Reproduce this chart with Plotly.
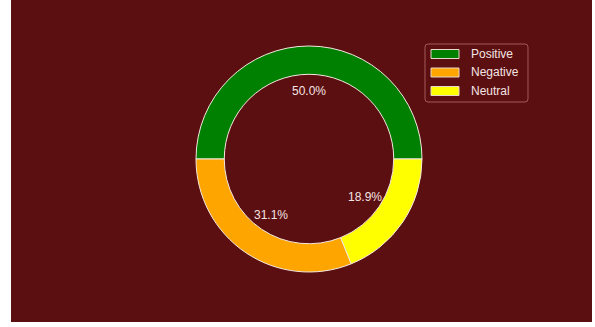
import plotly.graph_objects as go
import math
import re

categories = ["Positive", "Negative", "Neutral"]
values = [50.0, 31.1, 18.9]
colors = ["#008000", "#FFA500", "#FFFF00"]

W, H = 595, 327
BG = "#5c0f10"
TXT = "#f3e4e4"

# pie placement in pixels -> paper
cx_px, cy_px, R_px = 309, 159, 113
dom_x = [(cx_px - R_px) / W, (cx_px + R_px) / W]
dom_y = [1 - (cy_px + R_px) / H, 1 - (cy_px - R_px) / H]

fig = go.Figure()
fig.add_trace(go.Pie(
    labels=categories, values=values, sort=False,
    direction="counterclockwise", rotation=-90,
    hole=0.75,
    marker=dict(colors=colors, line=dict(color="#f4e8e0", width=1)),
    textinfo="none", hoverinfo="label+percent",
    showlegend=False,
    domain=dict(x=dom_x, y=dom_y),
))

shapes = [dict(type="rect", xref="paper", yref="paper",
               x0=11 / W, x1=592 / W, y0=1 - 322 / H, y1=1,
               fillcolor=BG, line=dict(width=0), layer="below")]
annotations = []

# percentage labels at 0.6 of the radius, from the data
total = sum(values)
start = 0.0
for v in values:
    frac = v / total
    mid = (start + frac / 2) * 2 * math.pi
    start += frac
    x = cx_px + 0.6 * R_px * math.cos(mid)
    y = cy_px - 0.6 * R_px * math.sin(mid)
    annotations.append(dict(x=x / W, y=1 - y / H, xref="paper", yref="paper",
                            text=f"{100*frac:.1f}%", showarrow=False,
                            font=dict(family="Liberation Sans, Arial", size=12, color=TXT),
                            xanchor="center", yanchor="middle"))

# legend box
lx0, lx1, ly0, ly1, rr = 425, 528, 44, 102, 3
path = (f"M{lx0+rr},{ly0} L{lx1-rr},{ly0} Q{lx1},{ly0} {lx1},{ly0+rr} "
        f"L{lx1},{ly1-rr} Q{lx1},{ly1} {lx1-rr},{ly1} L{lx0+rr},{ly1} "
        f"Q{lx0},{ly1} {lx0},{ly1-rr} L{lx0},{ly0+rr} Q{lx0},{ly0} {lx0+rr},{ly0} Z")


def conv(p):
    out = []
    toks = re.findall(r"[MLQZ]|[-\d.]+,[-\d.]+", p)
    for t in toks:
        if "," in t:
            a, b = t.split(",")
            out.append(f"{float(a)/W:.5f},{1-float(b)/H:.5f}")
        else:
            out.append(t)
    return " ".join(out)


shapes.append(dict(type="path", xref="paper", yref="paper", path=conv(path),
                   fillcolor=BG, line=dict(color="#a25a5a", width=1)))
row_y = [54, 72.5, 91]
for i, (lab, col) in enumerate(zip(categories, colors)):
    yc = row_y[i]
    shapes.append(dict(type="rect", xref="paper", yref="paper",
                       x0=431 / W, x1=459 / W, y0=1 - (yc + 4.5) / H, y1=1 - (yc - 4.5) / H,
                       fillcolor=col, line=dict(color="#e8d8c8", width=1)))
    annotations.append(dict(x=469 / W, y=1 - yc / H, xref="paper", yref="paper",
                            text=lab, showarrow=False, xanchor="left", yanchor="middle",
                            font=dict(family="Liberation Sans, Arial", size=12, color=TXT)))

fig.update_layout(width=W, height=H, margin=dict(l=0, r=0, t=0, b=0),
                  paper_bgcolor="white", plot_bgcolor="white",
                  shapes=shapes, annotations=annotations)
fig.write_html("out.html")
